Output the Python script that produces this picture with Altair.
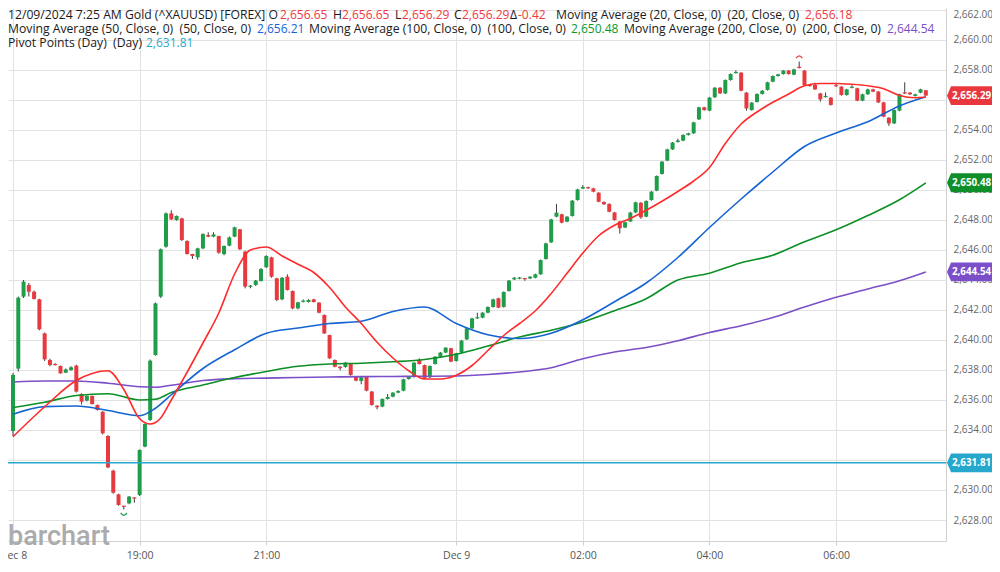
import altair as alt
import pandas as pd

# ---------------- data (5-minute candles from Dec 8 17:00) ----------------
opens = [
    2633.93, 2638.09, 2642.89, 2643.67, 2643.22, 2642.71, 2640.44, 2638.67, 2638.40, 2638.27,
    2637.82, 2638.00, 2638.29, 2636.40, 2635.96, 2636.27, 2635.67, 2635.22, 2633.60, 2631.29,
    2629.71, 2628.95, 2629.11, 2629.50, 2629.67, 2632.89, 2634.67, 2639.00, 2642.89, 2646.22,
    2648.44, 2648.00, 2648.11, 2646.60, 2645.73, 2645.51, 2646.11, 2647.00, 2646.89, 2646.93,
    2645.73, 2646.29, 2646.89, 2647.38, 2645.89, 2643.55, 2643.67, 2643.93, 2644.85, 2645.51,
    2644.11, 2642.71, 2644.22, 2643.27, 2642.11, 2642.55, 2642.53, 2642.71, 2642.49, 2641.67,
    2640.33, 2638.67, 2638.22, 2638.20, 2638.44, 2637.55, 2637.27, 2637.55, 2636.56, 2635.62,
    2635.56, 2636.07, 2636.22, 2636.49, 2636.62, 2637.40, 2637.55, 2638.67, 2638.33, 2637.51,
    2638.40, 2638.89, 2639.16, 2639.45, 2638.60, 2639.16, 2640.04, 2640.78, 2641.44, 2641.49,
    2641.82, 2642.20, 2642.78, 2642.20, 2643.27, 2644.04, 2644.10, 2644.12, 2644.10, 2644.15,
    2644.38, 2645.40, 2646.51, 2648.22, 2648.38, 2647.89, 2648.27, 2649.33, 2650.10, 2650.18,
    2650.11, 2649.82, 2649.20, 2649.07, 2648.50, 2647.90, 2647.50, 2647.90, 2648.50, 2649.15,
    2648.22, 2649.33, 2649.96, 2651.07, 2651.96, 2652.71, 2653.20, 2653.29, 2653.67, 2653.78,
    2654.71, 2655.51, 2655.29, 2656.18, 2656.82, 2656.44, 2657.33, 2657.80, 2657.82, 2656.49,
    2655.33, 2655.87, 2656.40, 2656.67, 2657.22, 2657.60, 2657.73, 2657.96, 2657.69, 2658.22,
    2657.96, 2657.00, 2657.00, 2656.44, 2656.20, 2656.16, 2656.98, 2656.89, 2656.33, 2656.82,
    2656.78, 2655.96, 2656.38, 2656.71, 2656.56, 2655.84, 2654.82, 2654.44, 2655.29, 2656.50,
    2656.49, 2656.27, 2656.49, 2656.65]

closes = [
    2637.67, 2642.82, 2643.89, 2643.22, 2642.73, 2640.71, 2638.71, 2638.33, 2638.33, 2637.78,
    2638.04, 2638.18, 2636.56, 2635.89, 2636.27, 2635.73, 2635.33, 2633.78, 2631.51, 2629.82,
    2629.00, 2628.88, 2629.56, 2629.44, 2632.67, 2634.40, 2638.62, 2642.44, 2646.05, 2648.44,
    2648.04, 2648.27, 2646.67, 2645.73, 2645.60, 2646.11, 2647.07, 2646.89, 2647.04, 2645.82,
    2646.27, 2646.84, 2647.51, 2646.05, 2643.56, 2643.62, 2643.96, 2644.73, 2645.60, 2644.22,
    2642.67, 2644.15, 2643.33, 2642.11, 2642.51, 2642.62, 2642.67, 2642.53, 2641.82, 2640.44,
    2638.78, 2638.22, 2638.12, 2638.49, 2637.67, 2637.29, 2637.51, 2636.62, 2635.67, 2635.52,
    2636.07, 2636.20, 2636.49, 2636.60, 2637.38, 2637.55, 2638.49, 2638.40, 2637.44, 2638.27,
    2638.89, 2639.16, 2639.49, 2638.56, 2639.11, 2639.96, 2640.78, 2641.44, 2641.52, 2641.82,
    2642.20, 2642.71, 2642.16, 2643.20, 2643.96, 2644.15, 2644.14, 2644.06, 2644.22, 2644.38,
    2645.33, 2646.44, 2648.04, 2648.49, 2647.82, 2648.22, 2649.29, 2650.04, 2650.20, 2650.12,
    2649.89, 2649.22, 2649.05, 2648.55, 2648.00, 2647.45, 2647.85, 2648.50, 2649.18, 2648.18,
    2649.27, 2649.89, 2650.93, 2651.89, 2652.71, 2653.16, 2653.30, 2653.67, 2653.78, 2654.51,
    2655.51, 2655.33, 2656.16, 2656.82, 2656.44, 2657.33, 2657.73, 2657.86, 2656.62, 2655.44,
    2655.82, 2656.40, 2656.62, 2657.18, 2657.60, 2657.71, 2657.96, 2657.73, 2658.04, 2658.14,
    2657.00, 2656.93, 2656.71, 2656.04, 2656.26, 2655.67, 2656.92, 2656.33, 2656.71, 2656.88,
    2655.96, 2656.38, 2656.71, 2656.56, 2655.84, 2654.89, 2654.44, 2655.33, 2656.38, 2656.44,
    2656.38, 2656.38, 2656.71, 2656.29]

highs = [
    2637.80, 2642.90, 2644.00, 2643.80, 2643.30, 2642.75, 2640.50, 2638.75, 2638.45, 2638.30,
    2638.10, 2638.25, 2638.35, 2636.45, 2636.30, 2636.30, 2635.70, 2635.25, 2633.65, 2631.35,
    2629.75, 2628.95, 2629.60, 2629.50, 2632.70, 2634.45, 2638.70, 2642.50, 2646.10, 2648.50,
    2648.65, 2648.30, 2648.15, 2646.65, 2645.75, 2646.15, 2647.10, 2647.18, 2647.18, 2646.95,
    2646.30, 2646.90, 2647.55, 2647.40, 2645.95, 2643.67, 2644.00, 2644.80, 2645.65, 2645.55,
    2644.15, 2644.20, 2644.38, 2643.30, 2642.55, 2642.70, 2642.72, 2642.75, 2642.52, 2641.70,
    2640.36, 2638.70, 2638.25, 2638.52, 2638.47, 2637.58, 2637.55, 2637.58, 2636.60, 2635.65,
    2636.10, 2636.40, 2636.52, 2636.65, 2637.42, 2637.60, 2638.52, 2638.78, 2638.36, 2638.30,
    2638.92, 2639.20, 2639.52, 2639.48, 2639.14, 2640.00, 2640.82, 2641.48, 2641.82, 2641.86,
    2642.24, 2642.75, 2642.82, 2643.24, 2644.00, 2644.20, 2644.20, 2644.14, 2644.26, 2644.42,
    2645.37, 2646.48, 2648.08, 2649.07, 2648.42, 2648.26, 2649.33, 2650.08, 2650.32, 2650.22,
    2650.15, 2649.86, 2649.24, 2649.11, 2648.54, 2647.94, 2647.89, 2648.54, 2649.22, 2649.19,
    2649.31, 2649.93, 2650.97, 2651.93, 2652.75, 2653.20, 2653.42, 2653.71, 2653.82, 2654.55,
    2655.55, 2655.55, 2656.20, 2656.86, 2656.86, 2657.37, 2657.77, 2657.98, 2657.86, 2656.53,
    2655.86, 2656.44, 2656.66, 2657.22, 2657.64, 2657.75, 2658.00, 2658.00, 2658.08, 2658.56,
    2658.00, 2657.04, 2657.16, 2656.48, 2656.50, 2656.20, 2657.10, 2656.93, 2656.75, 2656.98,
    2656.82, 2656.42, 2656.75, 2656.75, 2656.60, 2655.88, 2654.86, 2655.37, 2656.42, 2657.18,
    2656.53, 2656.42, 2656.75, 2656.65]

lows = [
    2633.60, 2637.90, 2642.80, 2642.90, 2642.70, 2640.65, 2638.60, 2638.25, 2638.30, 2637.75,
    2637.80, 2637.95, 2636.50, 2635.70, 2635.90, 2635.70, 2635.30, 2633.70, 2631.45, 2629.75,
    2628.95, 2628.70, 2629.05, 2629.15, 2629.60, 2632.85, 2634.60, 2638.95, 2642.80, 2646.15,
    2648.00, 2647.95, 2646.60, 2645.70, 2645.40, 2645.35, 2646.05, 2646.85, 2646.85, 2645.75,
    2645.65, 2646.25, 2646.85, 2646.00, 2643.44, 2643.45, 2643.60, 2643.90, 2644.80, 2644.15,
    2642.60, 2642.65, 2643.30, 2642.05, 2642.05, 2642.50, 2642.50, 2642.50, 2641.78, 2640.40,
    2638.74, 2638.18, 2637.98, 2638.15, 2637.62, 2637.25, 2637.05, 2636.58, 2635.62, 2635.38,
    2635.52, 2636.03, 2636.18, 2636.45, 2636.58, 2637.36, 2637.50, 2638.36, 2637.40, 2637.47,
    2638.36, 2638.85, 2639.12, 2638.52, 2638.56, 2639.12, 2640.00, 2640.74, 2641.40, 2641.45,
    2641.78, 2642.16, 2642.12, 2642.16, 2643.23, 2644.00, 2644.05, 2643.95, 2644.06, 2644.11,
    2644.34, 2645.36, 2646.47, 2648.18, 2647.78, 2647.85, 2648.23, 2649.29, 2650.06, 2650.08,
    2649.85, 2649.18, 2649.01, 2648.51, 2647.96, 2647.10, 2647.46, 2647.86, 2648.46, 2648.08,
    2648.18, 2649.29, 2649.92, 2651.03, 2651.92, 2652.67, 2653.16, 2653.25, 2653.63, 2653.74,
    2654.67, 2655.29, 2655.25, 2656.14, 2656.40, 2656.40, 2657.29, 2657.76, 2656.58, 2655.29,
    2655.29, 2655.83, 2656.36, 2656.63, 2657.18, 2657.56, 2657.69, 2657.69, 2657.65, 2658.10,
    2656.96, 2656.89, 2656.67, 2655.89, 2656.16, 2655.63, 2656.88, 2656.29, 2656.29, 2656.78,
    2655.92, 2655.92, 2656.34, 2656.52, 2655.80, 2654.85, 2654.27, 2654.40, 2655.25, 2656.40,
    2656.34, 2656.23, 2656.45, 2656.29]

# moving averages, read at bar positions (bar index)
ma20_idx = [0, 6, 12, 18, 21, 24, 26, 28, 30, 33, 36, 39, 42, 45, 48, 51, 54, 57, 60, 63,
            66, 69, 72, 75, 78, 81, 84, 87, 90, 93, 96, 99, 102, 105, 108, 111, 114, 117,
            120, 123, 126, 129, 132, 135, 138, 141, 144, 147, 150, 153, 156, 159, 162, 165,
            168, 171, 173]
ma20_val = [2633.55, 2635.55, 2637.30, 2637.95, 2636.70, 2634.75, 2634.40, 2634.80, 2636.00,
            2637.85, 2639.80, 2641.80, 2644.40, 2646.00, 2646.20, 2645.60, 2645.05, 2644.50,
            2643.50, 2642.20, 2641.10, 2639.85, 2638.80, 2637.95, 2637.40, 2637.40, 2637.65,
            2638.30, 2639.30, 2640.30, 2641.10, 2641.95, 2643.10, 2644.45, 2645.80, 2646.95,
            2647.65, 2648.10, 2648.65, 2649.25, 2649.90, 2650.60, 2651.50, 2653.10, 2654.40,
            2655.20, 2655.85, 2656.40, 2656.95, 2657.10, 2657.10, 2657.05, 2656.95, 2656.75,
            2656.30, 2656.15, 2656.18]

ma_idx = [0, 6, 12, 18, 24, 27, 30, 36, 42, 48, 54, 60, 66, 72, 78, 84, 90, 96, 102, 108,
          114, 120, 126, 132, 138, 144, 150, 156, 162, 168, 173]
ma50_val = [2635.05, 2635.56, 2635.60, 2635.30, 2634.95, 2635.45, 2636.35, 2638.10, 2639.35,
            2640.45, 2640.80, 2641.10, 2641.25, 2641.90, 2642.20, 2641.10, 2640.35, 2640.10,
            2640.45, 2641.35, 2642.55, 2643.80, 2645.50, 2647.50, 2649.40, 2651.20, 2652.90,
            2653.80, 2654.55, 2655.60, 2656.21]
ma100_val = [2635.50, 2635.85, 2636.30, 2636.42, 2636.00, 2636.05, 2636.50, 2637.00, 2637.50,
             2637.90, 2638.25, 2638.40, 2638.45, 2638.55, 2638.70, 2639.05, 2639.60, 2640.20,
             2640.65, 2641.20, 2641.95, 2642.75, 2644.00, 2644.45, 2645.15, 2645.65, 2646.55,
             2647.35, 2648.30, 2649.35, 2650.48]
ma200_val = [2637.20, 2637.27, 2637.27, 2637.12, 2636.88, 2636.85, 2636.98, 2637.30, 2637.42,
             2637.46, 2637.50, 2637.53, 2637.56, 2637.57, 2637.58, 2637.60, 2637.70, 2637.87,
             2638.15, 2638.75, 2639.20, 2639.50, 2639.95, 2640.50, 2640.95, 2641.50, 2642.20,
             2642.85, 2643.40, 2643.95, 2644.54]

pivot = 2631.81

badge_vals = [2656.29, 2650.48, 2644.54, 2631.81]
badge_cols = ["#e8383d", "#0f8f2a", "#7b4fc9", "#26a8cd"]

assert len(opens) == len(closes) == len(highs) == len(lows) == 174
assert len(ma20_idx) == len(ma20_val)
assert len(ma_idx) == len(ma50_val) == len(ma100_val) == len(ma200_val)

# ---------------- build tables ----------------
start = pd.Timestamp("2024-12-08 17:00")


def tstr(i):
    return (start + pd.Timedelta(minutes=5 * i)).strftime("%Y-%m-%dT%H:%M:%S")


cdf = pd.DataFrame({"t": [tstr(i) for i in range(len(opens))],
                    "open": opens, "high": highs, "low": lows, "close": closes})
cdf["up"] = cdf["close"] >= cdf["open"]
mid = (cdf["open"] + cdf["close"]) / 2
span = (cdf["close"] - cdf["open"]).abs().clip(lower=0.08)
cdf["b0"] = mid - span / 2
cdf["b1"] = mid + span / 2

UP, DOWN, WICK = "#1f9e4a", "#e8393e", "#3c3c3c"
PLOT_W, PLOT_H = 938, 533

xscale = alt.Scale(domain=[alt.DateTime(year=2024, month=12, date=8, hours=17),
                           alt.DateTime(year=2024, month=12, date=9, hours=7, minutes=39,
                                        seconds=22, milliseconds=500)], nice=False)
xaxis = alt.Axis(values=[alt.DateTime(year=2024, month=12, date=8, hours=17),
                         alt.DateTime(year=2024, month=12, date=8, hours=19),
                         alt.DateTime(year=2024, month=12, date=8, hours=21),
                         alt.DateTime(year=2024, month=12, date=9, hours=0),
                         alt.DateTime(year=2024, month=12, date=9, hours=2),
                         alt.DateTime(year=2024, month=12, date=9, hours=4),
                         alt.DateTime(year=2024, month=12, date=9, hours=6)],
                 labelExpr="hours(datum.value) == 17 || hours(datum.value) == 0 ? timeFormat(datum.value, '%b %-d') : timeFormat(datum.value, '%H:%M')",
                 title=None, grid=True, gridColor="#e2e2e2", gridWidth=1,
                 domainColor="#d0d0d0", tickColor="#d0d0d0", tickSize=4,
                 labelColor="#555555", labelFontSize=10.5, labelFont="Open Sans",
                 labelPadding=5, labelAngle=0)
yscale = alt.Scale(domain=[2626.6, 2662.1333], nice=False, zero=False)
yaxis = alt.Axis(orient="right", values=list(range(2628, 2663, 2)), format=",.2f",
                 title=None, grid=True, gridColor="#e2e2e2", gridWidth=1, ticks=False,
                 domainColor="#d0d0d0", labelColor="#666666", labelFontSize=10,
                 labelFont="Open Sans", labelPadding=7,
                 labelBaseline={"condition": {"test": "datum.value >= 2661", "value": "top"},
                                "value": "middle"})


def X(f):
    return alt.X(f, type="temporal", scale=xscale, axis=xaxis, title=None)


def Y(f):
    return alt.Y(f, type="quantitative", scale=yscale, axis=yaxis, title=None)


layers = []

# wicks
layers.append(alt.Chart(cdf).mark_rule(color=WICK, strokeWidth=1, clip=True).encode(
    x=X("t"), y=Y("low"), y2=alt.Y2("high")))
# bodies
layers.append(alt.Chart(cdf).transform_filter("datum.up").mark_bar(
    size=4, color=UP, clip=True).encode(x=X("t"), y=Y("b0"), y2=alt.Y2("b1")))
layers.append(alt.Chart(cdf).transform_filter("!datum.up").mark_bar(
    size=4, color=DOWN, clip=True).encode(x=X("t"), y=Y("b0"), y2=alt.Y2("b1")))

# pivot line
layers.append(alt.Chart(pd.DataFrame({"v": [pivot]})).mark_rule(
    color="#27a7cf", strokeWidth=1.5).encode(y=Y("v")))


def ma_layer(idx, vals, color):
    d = pd.DataFrame({"t": [tstr(i) for i in idx], "v": vals})
    return alt.Chart(d).mark_line(color=color, strokeWidth=1.6, interpolate="monotone",
                                  clip=True).encode(x=X("t"), y=Y("v"))


layers.append(ma_layer(ma_idx, ma200_val, "#7a4fc7"))
layers.append(ma_layer(ma_idx, ma100_val, "#0c8f25"))
layers.append(ma_layer(ma_idx, ma50_val, "#1464d2"))
layers.append(ma_layer(ma20_idx, ma20_val, "#ff2b2b"))

# high / low markers
hi_i = int(cdf["high"].idxmax())
lo_i = int(cdf["low"].idxmin())
layers.append(alt.Chart(pd.DataFrame({"t": [cdf.t[hi_i]], "v": [cdf.high[hi_i]]})).mark_point(
    shape="M -1 0.5 Q 0 -1 1 0.5", size=40, filled=False, color="#e8393e",
    strokeWidth=1.2, opacity=1, yOffset=-5).encode(x=X("t"), y=Y("v")))
layers.append(alt.Chart(pd.DataFrame({"t": [cdf.t[lo_i]], "v": [cdf.low[lo_i]]})).mark_point(
    shape="M -1 -0.5 Q 0 1 1 -0.5", size=40, filled=False, color="#1f9e4a",
    strokeWidth=1.2, opacity=1, yOffset=5).encode(x=X("t"), y=Y("v")))

# price badges on the right axis
bdf = pd.DataFrame({"v": badge_vals, "c": badge_cols,
                    "label": [f"{v:,.2f}" for v in badge_vals]})
layers.append(alt.Chart(bdf).mark_point(
    shape="M -1 0 L -0.82 -0.42 L 1 -0.42 L 1 0.42 L -0.82 0.42 Z", size=2025,
    filled=True, opacity=1, strokeWidth=0).encode(
    x=alt.value(PLOT_W + 23.5), y=Y("v"), color=alt.Color("c:N", scale=None)))
layers.append(alt.Chart(bdf).mark_text(
    color="white", fontWeight="bold", fontSize=9.8, font="Open Sans",
    align="center", baseline="middle").encode(
    x=alt.value(PLOT_W + 25.5), y=Y("v"), text="label:N"))

# header legend text
BLACK, RED, BLUE, GREEN, PURPLE, TEAL = ("#1a1a1a", "#f0373f", "#1565d8", "#0b9a2e",
                                         "#7a4fc7", "#29a9cc")
SP = "\u00a0"
L1, L2, L3 = 6.5, 20.5, 35
header = [
    ("12/09/2024 7:25 AM Gold (^XAUUSD) [FOREX] O", BLACK, 0, L1),
    ("2,656.65", RED, 272, L1),
    ("H", BLACK, 325, L1),
    ("2,656.65", RED, 334, L1),
    ("L", BLACK, 387, L1),
    ("2,656.29", RED, 394, L1),
    ("C", BLACK, 446, L1),
    ("2,656.29", RED, 454, L1),
    ("Δ", BLACK, 502, L1),
    ("-0.42", RED, 510, L1),
    (f"Moving Average (20, Close, 0) {SP}(20, Close, 0)", BLACK, 548, L1),
    ("2,656.18", RED, 797, L1),
    (f"Moving Average (50, Close, 0) {SP}(50, Close, 0)", BLACK, 0, L2),
    ("2,656.21", BLUE, 249, L2),
    (f"Moving Average (100, Close, 0) {SP}(100, Close, 0)", BLACK, 301, L2),
    ("2,650.48", GREEN, 563, L2),
    (f"Moving Average (200, Close, 0) {SP}(200, Close, 0)", BLACK, 616, L2),
    ("2,644.54", PURPLE, 879, L2),
    (f"Pivot Points (Day) {SP}(Day)", BLACK, 0, L3),
    ("2,631.81", TEAL, 138, L3),
]
for txt, col, px, py in header:
    layers.append(alt.Chart(pd.DataFrame({"s": [txt]})).mark_text(
        align="left", baseline="middle", font="Open Sans",
        fontSize=12.2 if col == BLACK else 12, color=col).encode(
        x=alt.value(px), y=alt.value(py), text="s:N"))

# watermark
layers.append(alt.Chart(pd.DataFrame({"s": ["barchart"]})).mark_text(
    align="left", baseline="alphabetic", font="Roboto", fontSize=27, fontWeight=500,
    color="#ababab").encode(x=alt.value(0), y=alt.value(PLOT_H + 4), text="s:N"))

chart = alt.layer(*layers).properties(
    width=PLOT_W, height=PLOT_H,
    autosize=alt.AutoSizeParams(type="none"),
    padding={"left": 0, "top": 0, "right": 46, "bottom": 22},
    background="white",
).configure_view(stroke=None)

chart.save("out.html", embed_options={"renderer": "svg", "actions": False})
